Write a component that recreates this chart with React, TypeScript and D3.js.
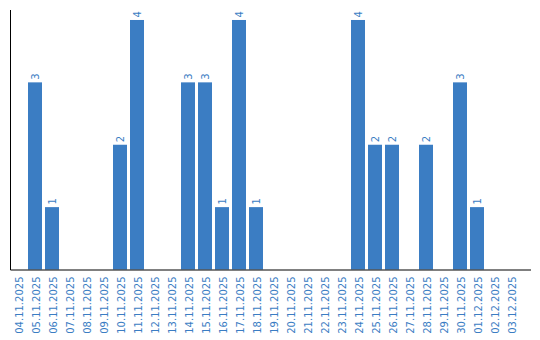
import React from "react";
import * as d3 from "d3";

const dates = [
  "04.11.2025","05.11.2025","06.11.2025","07.11.2025","08.11.2025","09.11.2025",
  "10.11.2025","11.11.2025","12.11.2025","13.11.2025","14.11.2025","15.11.2025",
  "16.11.2025","17.11.2025","18.11.2025","19.11.2025","20.11.2025","21.11.2025",
  "22.11.2025","23.11.2025","24.11.2025","25.11.2025","26.11.2025","27.11.2025",
  "28.11.2025","29.11.2025","30.11.2025","01.12.2025","02.12.2025","03.12.2025",
];
const counts = [0,3,1,0,0,0,2,4,0,0,3,3,1,4,1,0,0,0,0,0,4,2,2,0,2,0,3,1,0,0];

const W = 540, H = 340;
const left = 10.5, right = 531, top = 10, bottom = 269.5;
const color = "#3b7dc3";

export default function App() {
  const x = d3.scaleBand<string>().domain(dates).range([9.5, 519.5])
    .paddingInner(3 / 17).paddingOuter(1.5 / 17);
  const y = d3.scaleLinear().domain([0, 4.16]).range([bottom, top]);
  const font = "'DejaVu Sans', sans-serif";
  return (
    <svg width={W} height={H} style={{ position: "absolute", left: 0, top: 0 }}>
      {dates.map((d, i) => {
        const v = counts[i];
        if (!v) return null;
        const bx = x(d)!;
        return (
          <g key={d}>
            <rect x={bx} y={y(v)} width={x.bandwidth()} height={bottom - y(v)} fill={color} />
            <text
              transform={`translate(${bx + x.bandwidth() / 2 + 4},${y(v) - 2.5}) rotate(-90)`}
              fontSize={10} fontFamily={font} fill={color} textAnchor="start"
            >{v}</text>
          </g>
        );
      })}
      <line x1={left} x2={left} y1={top} y2={bottom + 0.5} stroke="#000" strokeWidth={1} />
      <line x1={left} x2={right} y1={bottom + 0.5} y2={bottom + 0.5} stroke="#000" strokeWidth={1} />
      {dates.map((d) => (
        <text key={"l" + d}
          transform={`translate(${x(d)! + x.bandwidth() / 2 + 4.5},${bottom + 7}) rotate(-90)`}
          fontSize={10} fontFamily={font} fill={color} textAnchor="end"
        >{d}</text>
      ))}
    </svg>
  );
}
